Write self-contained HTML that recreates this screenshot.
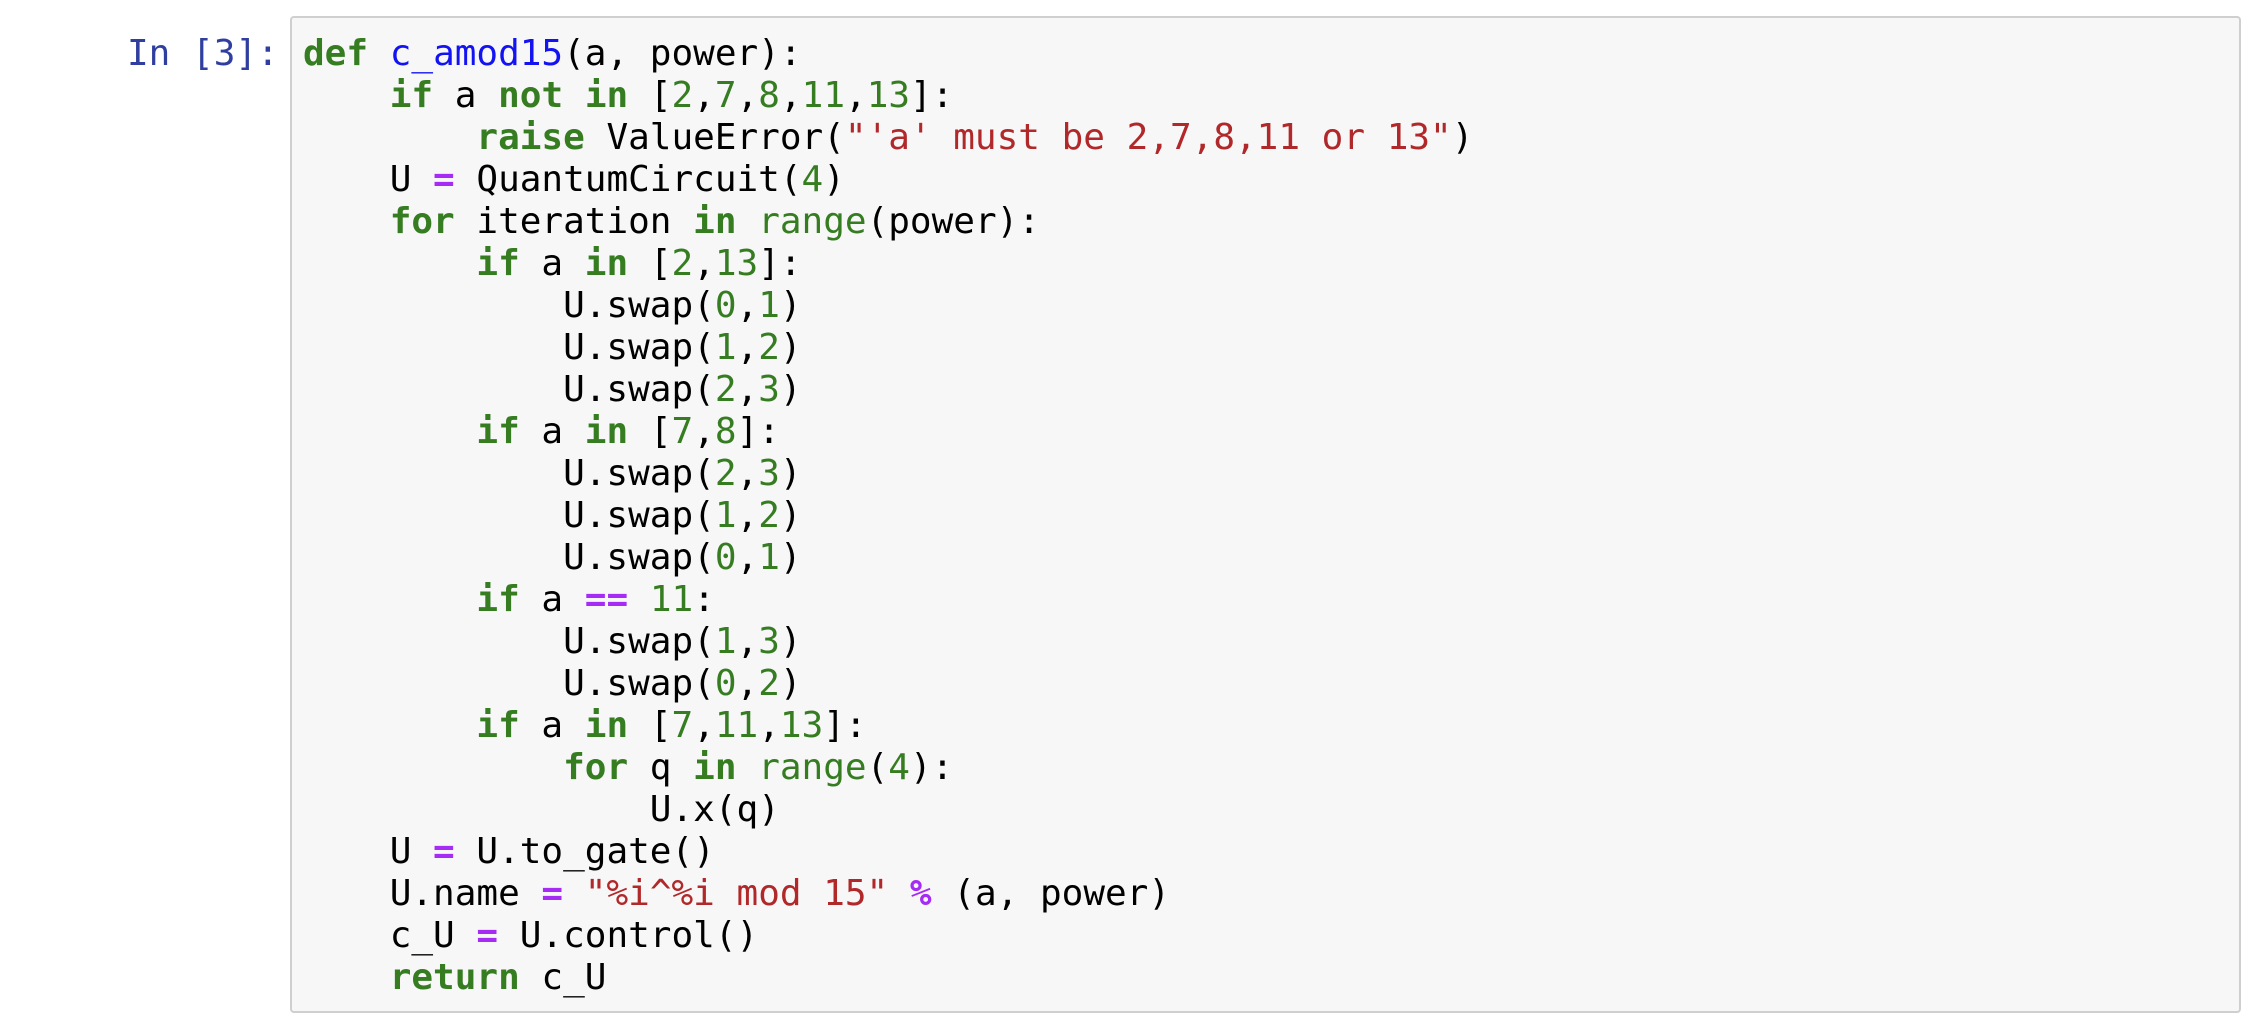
<!DOCTYPE html>
<html>
<head>
<meta charset="utf-8">
<style>
  html, body {
    margin: 0;
    padding: 0;
    width: 2256px;
    height: 1028px;
    background: #ffffff;
    overflow: hidden;
  }
  .prompt {
    position: absolute;
    left: 127px;
    top: 33px;
    margin: 0;
    font-family: "DejaVu Sans Mono", "Liberation Mono", monospace;
    font-size: 36px;
    line-height: 42px;
    color: #303F9F;
    white-space: pre;
  }
  .box {
    position: absolute;
    left: 290px;
    top: 16px;
    width: 1951px;
    height: 997px;
    box-sizing: border-box;
    border: 2px solid #cfcfcf;
    border-radius: 4px;
    background: #f7f7f7;
  }
  pre.code {
    position: absolute;
    left: 303px;
    top: 33px;
    margin: 0;
    font-family: "DejaVu Sans Mono", "Liberation Mono", monospace;
    font-size: 36px;
    line-height: 42px;
    color: #000000;
    white-space: pre;
  }
  .k { color: #367d22; font-weight: bold; }
  .n { color: #367d22; }
  .b { color: #367d22; }
  .s { color: #b0282a; }
  .o { color: #a52bf5; font-weight: bold; }
  .d { color: #1212f2; }
</style>
</head>
<body>
<div class="prompt">In [3]:</div>
<div class="box"></div>
<pre class="code"><span class="k">def</span> <span class="d">c_amod15</span>(a, power):
    <span class="k">if</span> a <span class="k">not</span> <span class="k">in</span> [<span class="n">2</span>,<span class="n">7</span>,<span class="n">8</span>,<span class="n">11</span>,<span class="n">13</span>]:
        <span class="k">raise</span> ValueError(<span class="s">"'a' must be 2,7,8,11 or 13"</span>)
    U <span class="o">=</span> QuantumCircuit(<span class="n">4</span>)
    <span class="k">for</span> iteration <span class="k">in</span> <span class="b">range</span>(power):
        <span class="k">if</span> a <span class="k">in</span> [<span class="n">2</span>,<span class="n">13</span>]:
            U.swap(<span class="n">0</span>,<span class="n">1</span>)
            U.swap(<span class="n">1</span>,<span class="n">2</span>)
            U.swap(<span class="n">2</span>,<span class="n">3</span>)
        <span class="k">if</span> a <span class="k">in</span> [<span class="n">7</span>,<span class="n">8</span>]:
            U.swap(<span class="n">2</span>,<span class="n">3</span>)
            U.swap(<span class="n">1</span>,<span class="n">2</span>)
            U.swap(<span class="n">0</span>,<span class="n">1</span>)
        <span class="k">if</span> a <span class="o">==</span> <span class="n">11</span>:
            U.swap(<span class="n">1</span>,<span class="n">3</span>)
            U.swap(<span class="n">0</span>,<span class="n">2</span>)
        <span class="k">if</span> a <span class="k">in</span> [<span class="n">7</span>,<span class="n">11</span>,<span class="n">13</span>]:
            <span class="k">for</span> q <span class="k">in</span> <span class="b">range</span>(<span class="n">4</span>):
                U.x(q)
    U <span class="o">=</span> U.to_gate()
    U.name <span class="o">=</span> <span class="s">"%i^%i mod 15"</span> <span class="o">%</span> (a, power)
    c_U <span class="o">=</span> U.control()
    <span class="k">return</span> c_U</pre>
</body>
</html>
